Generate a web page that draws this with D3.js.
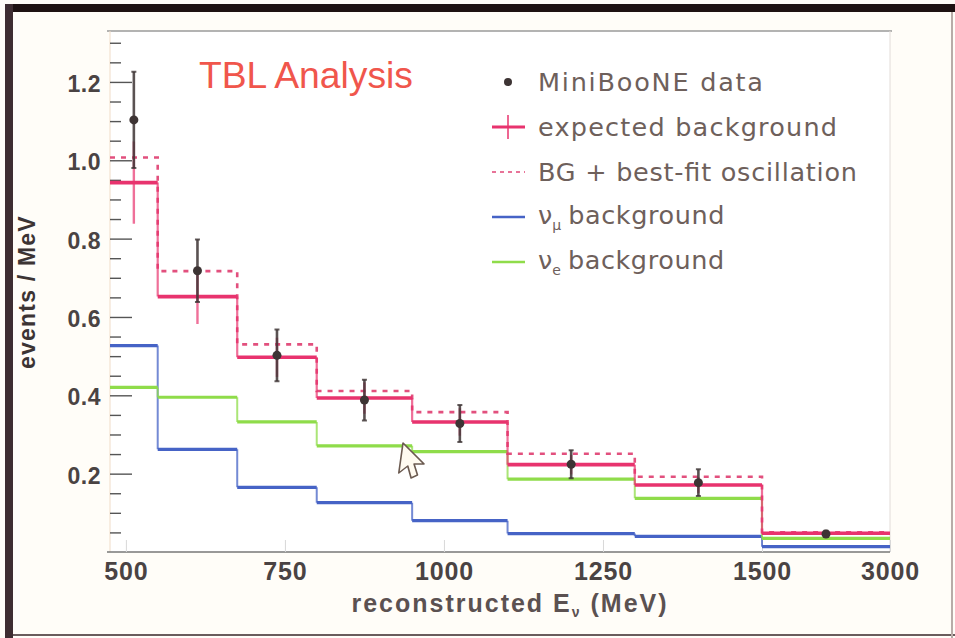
<!DOCTYPE html>
<html>
<head>
<meta charset="utf-8">
<script src="https://cdn.jsdelivr.net/npm/d3@7"></script>
<style>
  html, body { margin: 0; padding: 0; background: #fffdf8; }
  svg { display: block; }
</style>
</head>
<body>
<svg id="chart" width="955" height="638"></svg>
<script>
// Reconstructed-energy bins (MeV); the last bin is drawn compressed.
const binEdges = [475, 550, 675, 800, 950, 1100, 1300, 1500, 3000];
const xTickValues = [500, 750, 1000, 1250, 1500, 3000];
const yMajorTicks = [0.2, 0.4, 0.6, 0.8, 1.0, 1.2];

// events / MeV per bin
const dataVals = [1.103, 0.718, 0.502, 0.388, 0.328, 0.224, 0.177, 0.046];
const dataErr  = [0.123, 0.080, 0.066, 0.052, 0.047, 0.036, 0.034, 0.008];
const bkgVals  = [0.943, 0.652, 0.497, 0.393, 0.332, 0.223, 0.171, 0.048];
const bkgErr   = [0.105, 0.070, 0.050, 0.040, 0.035, 0.025, 0.020, 0.005];
const oscVals  = [1.007, 0.717, 0.530, 0.411, 0.357, 0.251, 0.192, 0.050];
const numuVals = [0.527, 0.262, 0.165, 0.126, 0.080, 0.047, 0.040, 0.0135];
const nueVals  = [0.420, 0.395, 0.332, 0.271, 0.256, 0.186, 0.137, 0.035];

const legendLabels = ["MiniBooNE data", "expected background", "BG + best-fit oscillation", "background", "background"];

const C = {
  red: "#e8336e",
  redDash: "#e2507e",
  blue: "#4663c6",
  green: "#8fdc4a",
  data: "#3d3434",
  text: "#4a4343",
  legendText: "#6e605b",
  title: "#f0564c"
};

const svg = d3.select("#chart");
const W = 955, H = 638;
const plot = { left: 110, right: 890, top: 31, bottom: 552 };

// Outer frame
svg.append("rect").attr("x", 0).attr("y", 0).attr("width", W).attr("height", H).attr("fill", "#fffdf8");
svg.append("rect").attr("x", 5).attr("y", 4).attr("width", W - 5).attr("height", 8).attr("fill", "#1e1212");
svg.append("rect").attr("x", 5).attr("y", 4).attr("width", 8).attr("height", H - 4).attr("fill", "#3e2d31");
svg.append("rect").attr("x", 13).attr("y", 634).attr("width", W - 13).attr("height", 2).attr("fill", "#6a5c5c");
svg.append("rect").attr("x", 951).attr("y", 12).attr("width", 2).attr("height", H - 12).attr("fill", "#b8aca8");

// Plot area
svg.append("rect")
  .attr("x", plot.left).attr("y", plot.top)
  .attr("width", plot.right - plot.left).attr("height", plot.bottom - plot.top)
  .attr("fill", "#ffffff");

// Piecewise-linear x: linear up to 1500 MeV, last bin squeezed to 3000 MeV
const x = d3.scaleLinear().domain([475, 1500, 3000]).range([plot.left, 762, plot.right]);
const y = d3.scaleLinear().domain([0, 1.33]).range([plot.bottom, plot.top]);

// Frame lines
svg.append("line").attr("x1", plot.left - 3).attr("x2", plot.right + 2).attr("y1", plot.top).attr("y2", plot.top)
  .attr("stroke", "#9a9a9a").attr("stroke-width", 1.5);
svg.append("line").attr("x1", plot.right).attr("x2", plot.right).attr("y1", plot.top).attr("y2", plot.bottom)
  .attr("stroke", "#e2dcd8").attr("stroke-width", 1);
svg.append("line").attr("x1", plot.left).attr("x2", plot.left).attr("y1", plot.top).attr("y2", plot.bottom)
  .attr("stroke", "#f0dcc8").attr("stroke-width", 1);

// Y axis: minor ticks every 0.05, major ticks with labels every 0.2
const minorTicks = d3.range(1, 27).map(i => i * 0.05).filter(v => !yMajorTicks.some(m => Math.abs(m - v) < 1e-6));
const yMinor = svg.append("g").attr("transform", `translate(${plot.left},0)`)
  .call(d3.axisLeft(y).tickValues(minorTicks).tickSizeInner(-11).tickSizeOuter(0).tickFormat(""));
yMinor.select(".domain").remove();
yMinor.selectAll(".tick line").attr("stroke", "#555").attr("stroke-width", 1.4);

const yMajor = svg.append("g").attr("transform", `translate(${plot.left},0)`)
  .call(d3.axisLeft(y).tickValues(yMajorTicks).tickSizeInner(-22).tickSizeOuter(0).tickPadding(9)
    .tickFormat(d3.format(".1f")));
yMajor.select(".domain").remove();
yMajor.selectAll(".tick line").attr("stroke", "#555").attr("stroke-width", 1.4);
yMajor.selectAll(".tick text")
  .attr("font-family", "'Liberation Sans', Arial, sans-serif")
  .attr("font-size", 23).attr("font-weight", "bold")
  .attr("letter-spacing", 0.5)
  .attr("fill", C.text).attr("dy", "0.42em");

// X axis
const xAxis = svg.append("g").attr("transform", `translate(0,${plot.bottom})`)
  .call(d3.axisBottom(x).tickValues(xTickValues).tickSizeInner(-12).tickSizeOuter(0).tickPadding(10)
    .tickFormat(d3.format("d")));
xAxis.select(".domain").attr("stroke", "#777").attr("stroke-width", 1.5)
  .attr("d", `M${plot.left - 3},0H${plot.right}`);
xAxis.selectAll(".tick line").attr("stroke", "#d8d8d8").attr("stroke-width", 1);
xAxis.selectAll(".tick text")
  .attr("font-family", "'Liberation Sans', Arial, sans-serif")
  .attr("font-size", 25).attr("font-weight", "bold")
  .attr("letter-spacing", 0.8)
  .attr("fill", C.text);

// Axis titles
const xTitle = svg.append("text")
  .attr("x", 510).attr("y", 612).attr("text-anchor", "middle")
  .attr("font-family", "'Liberation Sans', Arial, sans-serif")
  .attr("font-size", 25).attr("font-weight", "bold").attr("letter-spacing", 2)
  .attr("fill", "#5b5151");
xTitle.append("tspan").text("reconstructed E");
xTitle.append("tspan").attr("font-size", 14).attr("dy", 5).text("ν");
xTitle.append("tspan").attr("dy", -5).text("  (MeV)");

svg.append("text")
  .attr("transform", "translate(35,292) rotate(-90)")
  .attr("text-anchor", "middle")
  .attr("font-family", "'Liberation Sans', Arial, sans-serif")
  .attr("font-size", 23).attr("font-weight", "bold").attr("letter-spacing", 1.2)
  .attr("fill", "#3c3434")
  .text("events / MeV");

// Title
svg.append("text")
  .attr("x", 199).attr("y", 88)
  .attr("font-family", "'Liberation Sans', Arial, sans-serif")
  .attr("font-size", 37)
  .attr("textLength", 214).attr("lengthAdjust", "spacingAndGlyphs")
  .attr("fill", C.title)
  .text("TBL Analysis");

// Histogram helpers
const center = i => (x(binEdges[i]) + x(binEdges[i + 1])) / 2;

function stepPath(vals) {
  let d = "";
  vals.forEach((v, i) => {
    const xa = x(binEdges[i]), xb = x(binEdges[i + 1]), yy = y(v);
    d += (i === 0 ? `M${xa},${yy}` : `L${xa},${yy}`) + `L${xb},${yy}`;
  });
  return d;
}
function risers(vals) {
  let d = "";
  for (let i = 1; i < vals.length; i++) {
    const xe = x(binEdges[i]);
    d += `M${xe},${y(vals[i - 1])}L${xe},${y(vals[i])}`;
  }
  return d;
}
function flats(vals) {
  return vals.map((v, i) => `M${x(binEdges[i])},${y(v)}L${x(binEdges[i + 1])},${y(v)}`).join("");
}

function drawSolidStep(vals, color, wFlat, wRise, riseOpacity) {
  svg.append("path").attr("d", risers(vals)).attr("fill", "none")
    .attr("stroke", color).attr("stroke-width", wRise).attr("stroke-opacity", riseOpacity);
  svg.append("path").attr("d", flats(vals)).attr("fill", "none")
    .attr("stroke", color).attr("stroke-width", wFlat);
}

// Background components
drawSolidStep(numuVals, C.blue, 3.2, 2, 0.75);
drawSolidStep(nueVals, C.green, 3.2, 2, 0.75);

// Background + best-fit oscillation (dashed)
svg.append("path").attr("d", stepPath(oscVals)).attr("fill", "none")
  .attr("stroke", C.redDash).attr("stroke-width", 2.6).attr("stroke-dasharray", "5,6");

// Expected background with its error bars
svg.append("g").selectAll("line").data(bkgVals).join("line")
  .attr("x1", (d, i) => center(i)).attr("x2", (d, i) => center(i))
  .attr("y1", (d, i) => y(d - bkgErr[i])).attr("y2", (d, i) => y(d + bkgErr[i]))
  .attr("stroke", C.red).attr("stroke-width", 2.4).attr("stroke-opacity", 0.7);
drawSolidStep(bkgVals, C.red, 3.6, 2.2, 0.7);

// Data points with error bars
const dataG = svg.append("g");
dataG.selectAll("line.err").data(dataVals).join("line").attr("class", "err")
  .attr("x1", (d, i) => center(i)).attr("x2", (d, i) => center(i))
  .attr("y1", (d, i) => y(d - dataErr[i])).attr("y2", (d, i) => y(d + dataErr[i]))
  .attr("stroke", C.data).attr("stroke-width", 2.6).attr("stroke-opacity", 0.85);
dataG.selectAll("path.cap").data(dataVals).join("path").attr("class", "cap")
  .attr("d", (d, i) => {
    const cx = center(i), yt = y(d + dataErr[i]), yb = y(d - dataErr[i]);
    return `M${cx - 2.5},${yt}H${cx + 2.5}M${cx - 2.5},${yb}H${cx + 2.5}`;
  })
  .attr("stroke", C.data).attr("stroke-width", 2).attr("stroke-opacity", 0.8);
dataG.selectAll("circle").data(dataVals).join("circle")
  .attr("cx", (d, i) => center(i)).attr("cy", d => y(d)).attr("r", 4.5)
  .attr("fill", C.data);

// Legend
const legend = svg.append("g").attr("font-family", "'DejaVu Sans', 'Liberation Sans', sans-serif")
  .attr("font-size", 25.5).attr("fill", C.legendText);
const lgRows = [82, 127, 172, 217, 262];
const lgTextX = 538, lgSymX0 = 492, lgSymX1 = 525, lgSymC = 508;
const lgLengths = [225, 299, 319];

legend.append("circle").attr("cx", lgSymC).attr("cy", lgRows[0]).attr("r", 4).attr("fill", C.data);
legend.append("line").attr("x1", lgSymX0).attr("x2", lgSymX1).attr("y1", lgRows[1]).attr("y2", lgRows[1])
  .attr("stroke", C.red).attr("stroke-width", 3);
legend.append("line").attr("x1", lgSymC).attr("x2", lgSymC).attr("y1", lgRows[1] - 12).attr("y2", lgRows[1] + 12)
  .attr("stroke", C.red).attr("stroke-width", 2).attr("stroke-opacity", 0.75);
legend.append("line").attr("x1", lgSymX0).attr("x2", lgSymX1).attr("y1", lgRows[2]).attr("y2", lgRows[2])
  .attr("stroke", C.redDash).attr("stroke-width", 2).attr("stroke-dasharray", "4,4").attr("stroke-opacity", 0.8);
legend.append("line").attr("x1", lgSymX0).attr("x2", lgSymX1).attr("y1", lgRows[3]).attr("y2", lgRows[3])
  .attr("stroke", C.blue).attr("stroke-width", 2.5);
legend.append("line").attr("x1", lgSymX0).attr("x2", lgSymX1).attr("y1", lgRows[4]).attr("y2", lgRows[4])
  .attr("stroke", C.green).attr("stroke-width", 2.5);

[0, 1, 2].forEach(i => {
  legend.append("text").attr("x", lgTextX).attr("y", lgRows[i] + 9)
    .attr("textLength", lgLengths[i]).attr("lengthAdjust", "spacing")
    .text(legendLabels[i]);
});
[["μ", 3], ["e", 4]].forEach(([sub, i]) => {
  const t = legend.append("text").attr("x", lgTextX).attr("y", lgRows[i] + 7);
  t.append("tspan").text("ν");
  t.append("tspan").attr("font-size", 14).attr("dy", 6).text(sub);
  t.append("tspan").attr("dy", -6).attr("dx", 7).attr("letter-spacing", 0.6).text(legendLabels[i]);
});

// Mouse pointer
const pointer = [[0, 0], [0, 30], [8, 23], [13, 35], [19, 32], [14, 21], [24, 21]];
svg.append("path")
  .attr("d", d3.line()(pointer) + "Z")
  .attr("transform", "translate(403,443) skewX(-8)")
  .attr("fill", "#fffaf0").attr("stroke", "#6b5a50").attr("stroke-width", 1.6)
  .attr("stroke-linejoin", "round");
</script>
</body>
</html>
